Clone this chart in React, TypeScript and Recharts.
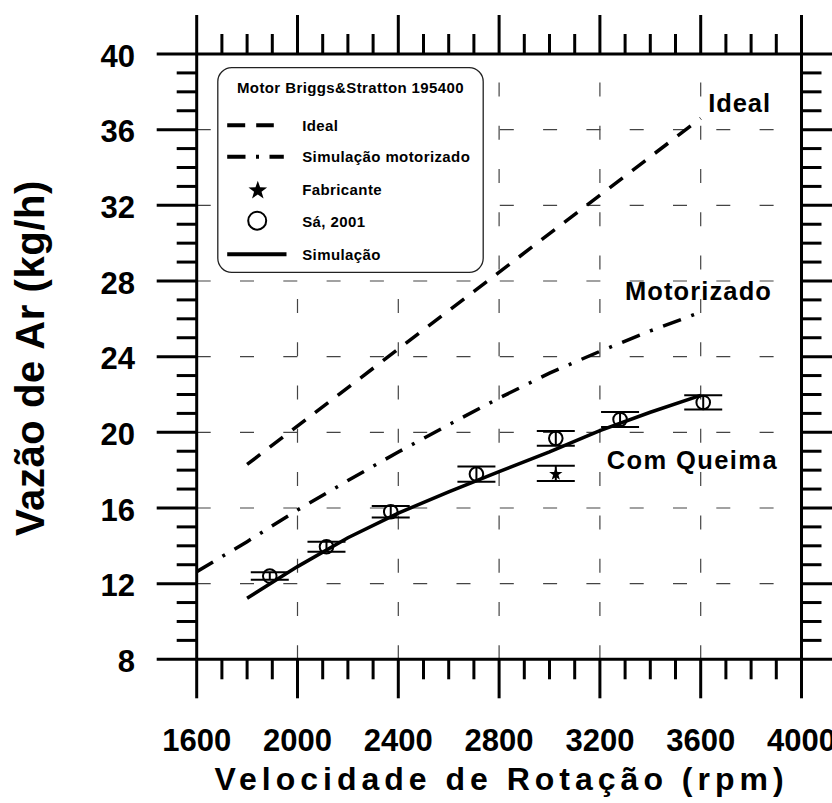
import React from 'react';
import {
  ComposedChart,
  Line,
  Scatter,
  XAxis,
  YAxis,
  CartesianGrid,
  ErrorBar,
  Legend,
  Customized,
} from 'recharts';

// ---------------- data ----------------
const xMajorTicks = [1600, 2000, 2400, 2800, 3200, 3600, 4000];
const yMajorTicks = [8, 12, 16, 20, 24, 28, 32, 36, 40];
const xGridValues = [2000, 2400, 2800, 3200, 3600];
const yGridValues = [12, 16, 20, 24, 28, 32, 36];
const xMinorStep = 100;
const yMinorStep = 1;

const idealRpm = [1800, 2400, 3000, 3600];
const idealFlow = [18.3, 24.4, 30.5, 36.6];

const motorRpm = [1600, 1800, 2000, 2200, 2400, 2600, 2800, 3000, 3200, 3400, 3600];
const motorFlow = [12.63, 14.22, 15.89, 17.45, 18.96, 20.4, 21.81, 23.13, 24.28, 25.36, 26.35];

const simRpm = [1800, 2000, 2200, 2400, 2600, 2800, 3000, 3200, 3400, 3600];
const simFlow = [11.23, 12.9, 14.43, 15.73, 16.85, 17.92, 18.96, 20.09, 21.06, 21.95];

const saRpm = [1890, 2115, 2370, 2710, 3025, 3280, 3610];
const saFlow = [12.4, 13.95, 15.8, 17.79, 19.68, 20.68, 21.58];
const saErr = [0.2, 0.27, 0.3, 0.4, 0.39, 0.4, 0.38];

const fabRpm = [3025];
const fabFlow = [17.83];
const fabErr = [0.4];

const legendTitle = 'Motor Briggs&Stratton 195400';
const legendNames = ['Ideal', 'Simulação motorizado', 'Fabricante', 'Sá, 2001', 'Simulação'];
const xTitle = 'Velocidade de Rotação (rpm)';
const yTitle = 'Vazão de Ar (kg/h)';
const curveLabels = ['Ideal', 'Motorizado', 'Com Queima'];

// -------------- derived tables --------------
const zip2 = (xs: number[], ys: number[]) => xs.map((x, i) => ({ x, y: ys[i] }));
const zip3 = (xs: number[], ys: number[], es: number[]) => xs.map((x, i) => ({ x, y: ys[i], err: es[i] }));
const idealData = zip2(idealRpm, idealFlow);
const motorData = zip2(motorRpm, motorFlow);
const simData = zip2(simRpm, simFlow);
const saData = zip3(saRpm, saFlow, saErr);
const fabData = zip3(fabRpm, fabFlow, fabErr);

const range = (a: number, b: number, step: number) => {
  const out: number[] = [];
  for (let v = a; v <= b + 1e-9; v += step) out.push(Math.round(v * 1000) / 1000);
  return out;
};
const xAllTicks = range(1600, 4000, xMinorStep);
const yAllTicks = range(8, 40, yMinorStep);

// -------------- styles --------------
const FONT = '"Liberation Sans", Arial, Helvetica, sans-serif';
const MAJOR = 39;
const MINOR = 20;
const TICK_W = 3;
const GRID_STROKE = '#444';
const GRID_DASH = '14 29.3';

const starPath = (cx: number, cy: number, R: number) => {
  const r = R * 0.4;
  let d = '';
  for (let i = 0; i < 10; i++) {
    const ang = -Math.PI / 2 + (i * Math.PI) / 5;
    const rad = i % 2 === 0 ? R : r;
    d += (i === 0 ? 'M' : 'L') + (cx + rad * Math.cos(ang)).toFixed(2) + ',' + (cy + rad * Math.sin(ang)).toFixed(2);
  }
  return d + 'Z';
};

// -------------- ticks --------------
const BottomTick = (p: any) => {
  const { x, y, payload } = p;
  const v = payload.value;
  const major = xMajorTicks.includes(v);
  return (
    <g>
      <line x1={x} y1={y} x2={x} y2={y + (major ? MAJOR : MINOR)} stroke="#000" strokeWidth={TICK_W} />
      {major && (
        <text x={x} y={y + 91.4} textAnchor="middle" fontFamily={FONT} fontWeight={700} fontSize={31} fill="#000">
          {v}
        </text>
      )}
    </g>
  );
};

const TopTick = (p: any) => {
  const { x, y, payload } = p;
  const major = xMajorTicks.includes(payload.value);
  return <line x1={x} y1={y} x2={x} y2={y - (major ? MAJOR : MINOR)} stroke="#000" strokeWidth={TICK_W} />;
};

const LeftTick = (p: any) => {
  const { x, y, payload } = p;
  const v = payload.value;
  const major = yMajorTicks.includes(v);
  return (
    <g>
      <line x1={x} y1={y} x2={x - (major ? MAJOR + 1 : MINOR)} y2={y} stroke="#000" strokeWidth={TICK_W} />
      {major && (
        <text x={x - 61.7} y={y + 12.8} textAnchor="end" fontFamily={FONT} fontWeight={700} fontSize={31} fill="#000">
          {v}
        </text>
      )}
    </g>
  );
};

const RightTick = (p: any) => {
  const { x, y, payload } = p;
  const major = yMajorTicks.includes(payload.value);
  return <line x1={x} y1={y} x2={x + (major ? MAJOR + 1 : MINOR)} y2={y} stroke="#000" strokeWidth={TICK_W} />;
};

// -------------- grid lines --------------
const HGridLine = (p: any) => (
  <line key={p.key} x1={p.x1} y1={p.y1} x2={p.x2} y2={p.y2} stroke={GRID_STROKE} strokeWidth={1.2} strokeDasharray={GRID_DASH} fill="none" />
);
const VGridLine = (p: any) => (
  <line key={p.key} x1={p.x2} y1={p.y2} x2={p.x1} y2={p.y1} stroke={GRID_STROKE} strokeWidth={1.2} strokeDasharray={GRID_DASH} fill="none" />
);

// -------------- shapes --------------
const CircleShape = (p: any) => (
  <circle cx={p.cx} cy={p.cy} r={6.8} fill="none" stroke="#000" strokeWidth={2} />
);
const StarShape = (p: any) => <path d={starPath(p.cx, p.cy + 0.8, 7)} fill="#000" />;

// -------------- legend --------------
const LegendBox = () => {
  const tx = 85.2;
  const base = [63.9, 94.7, 128.1, 159.6, 192.9];
  const textProps = { fontFamily: FONT, fontWeight: 700, fontSize: 15, letterSpacing: 0.4, fill: '#000' } as any;
  return (
    <svg width={268} height={207} style={{ display: 'block', overflow: 'visible' }}>
      <rect x={0.8} y={0.7} width={265.4} height={204.6} rx={14} ry={14} fill="#fff" stroke="#222" strokeWidth={1.3} />
      <text x={133.5} y={26.3} textAnchor="middle" {...textProps}>
        {legendTitle}
      </text>
      <line x1={10.2} y1={58.3} x2={56.8} y2={58.3} stroke="#000" strokeWidth={4} strokeDasharray="18 11" />
      <line x1={10.2} y1={89.7} x2={66.8} y2={89.7} stroke="#000" strokeWidth={4} strokeDasharray="18.3 10.5 3 10.5" />
      <path d={starPath(40.8, 123.5, 9.8)} fill="#000" />
      <circle cx={40.2} cy={153.7} r={9} fill="none" stroke="#000" strokeWidth={2} />
      <line x1={10.2} y1={187.3} x2={69.5} y2={187.3} stroke="#000" strokeWidth={4} />
      {legendNames.map((n, i) => (
        <text key={n} x={tx} y={base[i]} {...textProps}>
          {n}
        </text>
      ))}
    </svg>
  );
};

// -------------- annotations --------------
const Annotations = () => (
  <g fontFamily={FONT} fontWeight={700} fill="#000">
    <text x={708.3} y={111.7} fontSize={25.5} letterSpacing={0.9}>
      {curveLabels[0]}
    </text>
    <text x={625} y={300} fontSize={25.5} letterSpacing={1.1}>
      {curveLabels[1]}
    </text>
    <text x={606.7} y={469} fontSize={25.5} letterSpacing={1.4}>
      {curveLabels[2]}
    </text>
    <text x={501.5} y={790} textAnchor="middle" fontSize={32} letterSpacing={5}>
      {xTitle}
    </text>
    <text transform="translate(44,358) rotate(-90)" textAnchor="middle" fontSize={40} letterSpacing={0.6}>
      {yTitle}
    </text>
  </g>
);

const axisCommon = {
  tickSize: 0,
  tickMargin: 0,
  tickLine: false,
  interval: 0 as const,
  axisLine: { stroke: '#000', strokeWidth: 3 },
  allowDataOverflow: true,
};

export default function App() {
  return (
    <div style={{ position: 'absolute', left: 0, top: 0, width: 832, height: 803, background: '#fff' }}>
      <ComposedChart
        width={832}
        height={803}
        margin={{ top: 14, right: 0.5, bottom: 103.7, left: 156.7 }}
      >
        <CartesianGrid
          horizontalValues={yGridValues}
          verticalValues={xGridValues}
          horizontal={HGridLine}
          vertical={VGridLine}
          stroke={GRID_STROKE}
        />
        <XAxis
          {...axisCommon}
          type="number"
          dataKey="x"
          domain={[1600, 4000]}
          ticks={xAllTicks}
          height={40}
          tick={BottomTick}
        />
        <XAxis
          {...axisCommon}
          xAxisId="top"
          orientation="top"
          type="number"
          dataKey="x"
          domain={[1600, 4000]}
          ticks={xAllTicks}
          height={40}
          tick={TopTick}
        />
        <YAxis
          {...axisCommon}
          type="number"
          domain={[8, 40]}
          ticks={yAllTicks}
          width={40}
          tick={LeftTick}
        />
        <YAxis
          {...axisCommon}
          yAxisId="right"
          orientation="right"
          type="number"
          domain={[8, 40]}
          ticks={yAllTicks}
          width={30}
          tick={RightTick}
        />
        <Line
          data={idealData}
          dataKey="y"
          name="Ideal"
          type="linear"
          stroke="#000"
          strokeWidth={3.5}
          strokeDasharray="16.5 12"
          dot={false}
          activeDot={false}
          isAnimationActive={false}
        />
        <Line
          data={motorData}
          dataKey="y"
          name="Simulação motorizado"
          type="linear"
          stroke="#000"
          strokeWidth={3.5}
          strokeDasharray="19 11 3 11"
          dot={false}
          activeDot={false}
          isAnimationActive={false}
        />
        <Line
          data={simData}
          dataKey="y"
          name="Simulação"
          type="linear"
          stroke="#000"
          strokeWidth={3.5}
          dot={false}
          activeDot={false}
          isAnimationActive={false}
        />
        <Scatter data={saData} dataKey="y" name="Sá, 2001" shape={CircleShape} isAnimationActive={false}>
          <ErrorBar dataKey="err" direction="y" width={19} stroke="#000" strokeWidth={2} isAnimationActive={false} />
        </Scatter>
        <Scatter data={fabData} dataKey="y" name="Fabricante" shape={StarShape} isAnimationActive={false}>
          <ErrorBar dataKey="err" direction="y" width={19} stroke="#000" strokeWidth={2} isAnimationActive={false} />
        </Scatter>
        <Legend
          content={LegendBox}
          layout="vertical"
          align="center"
          verticalAlign="middle"
          wrapperStyle={{ position: 'absolute', left: 216.5, top: 67, width: 268, height: 207 }}
        />
        <Customized component={Annotations} />
      </ComposedChart>
    </div>
  );
}
